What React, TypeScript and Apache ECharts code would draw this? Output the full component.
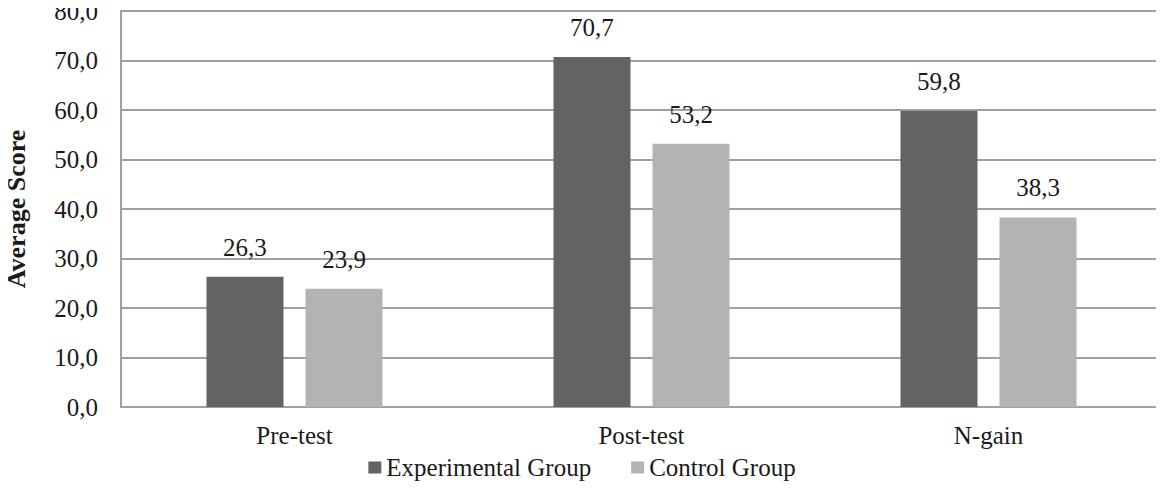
import React, { useEffect, useRef } from "react";
import * as echarts from "echarts";

const categories = ["Pre-test", "Post-test", "N-gain"];
const experimental = [26.3, 70.7, 59.8];
const control = [23.9, 53.2, 38.3];
const seriesNames = ["Experimental Group", "Control Group"];
const yTitle = "Average Score";

const FONT = "Liberation Serif";
const TXT = "#1a1a1a";
const fmt = (v: number) => v.toFixed(1).replace(".", ",");

export default function App() {
  const ref = useRef<HTMLDivElement>(null);
  useEffect(() => {
    const theme = { textStyle: { fontFamily: FONT, color: TXT } };
    const chart = echarts.init(ref.current!, theme as any, { renderer: "svg" });
    const label = {
      show: true,
      position: "top" as const,
      distance: 17,
      fontFamily: FONT,
      fontSize: 25,
      color: TXT,
      formatter: (p: any) => fmt(p.value),
    };
    chart.setOption({
      animation: false,
      textStyle: { fontFamily: FONT, color: TXT },
      grid: { left: 121, right: 2, top: 11, bottom: 83, containLabel: false, outerBoundsMode: "none" },
      legend: {
        bottom: 5,
        left: "center",
        itemWidth: 13,
        itemHeight: 12,
        itemGap: 40,
        icon: "rect",
        textStyle: { fontFamily: FONT, fontSize: 25, color: TXT },
        data: seriesNames,
      },
      xAxis: {
        type: "category",
        data: categories,
        axisLine: { show: true, lineStyle: { color: "#a0a0a0", width: 2 } },
        axisTick: { show: false },
        axisLabel: { fontFamily: FONT, fontSize: 25, color: TXT, margin: 16 },
      },
      yAxis: {
        type: "value",
        min: 0,
        max: 80,
        interval: 10,
        name: yTitle,
        nameLocation: "middle",
        nameGap: 92,
        nameRotate: 90,
        nameTextStyle: { fontFamily: FONT, fontSize: 26, fontWeight: "bold", color: TXT },
        axisLine: { show: true, lineStyle: { color: "#a0a0a0", width: 2 } },
        axisTick: { show: false },
        axisLabel: { fontFamily: FONT, fontSize: 25, color: TXT, margin: 23, formatter: (v: number) => fmt(v) },
        splitLine: { show: true, lineStyle: { color: "#a0a0a0", width: 2 } },
      },
      series: [
        {
          name: seriesNames[0],
          type: "bar",
          data: experimental,
          barWidth: 77,
          barGap: "28.6%",
          itemStyle: { color: "#636363" },
          label,
        },
        {
          name: seriesNames[1],
          type: "bar",
          data: control,
          barWidth: 77,
          itemStyle: { color: "#b3b3b3" },
          label,
        },
      ],
    });
    return () => chart.dispose();
  }, []);
  return <div ref={ref} style={{ width: 1164, height: 490, margin: -8 }} />;
}
